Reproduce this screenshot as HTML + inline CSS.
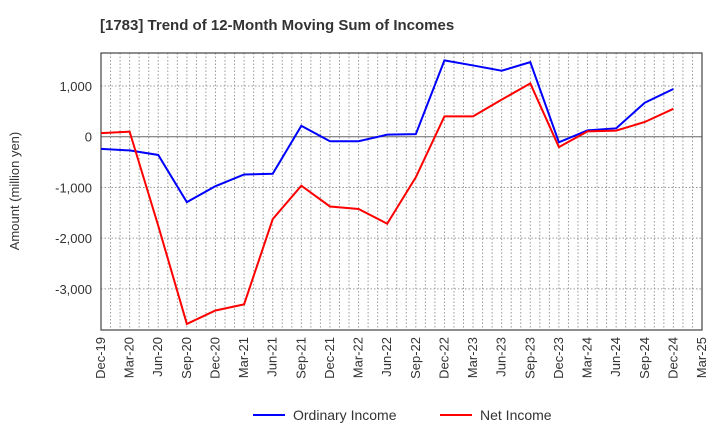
<!DOCTYPE html>
<html><head><meta charset="utf-8"><style>
body{margin:0;background:#fff;font-family:"Liberation Sans",sans-serif}
</style></head><body>
<svg id="chart" width="720" height="440" xmlns="http://www.w3.org/2000/svg" font-family="Liberation Sans, sans-serif">
<text x="100" y="30" font-size="15" font-weight="bold" fill="#333">[1783]  Trend of 12-Month Moving Sum of Incomes</text>
<text transform="translate(19,191) rotate(-90)" text-anchor="middle" font-size="13" fill="#333">Amount (million yen)</text>
<g id="grid"></g><g id="axes"></g><g id="series"></g>
<g>
<line x1="253" y1="415" x2="285" y2="415" stroke="#0000ff" stroke-width="2"/>
<text x="293" y="420" font-size="14" fill="#333">Ordinary Income</text>
<line x1="440" y1="415" x2="472" y2="415" stroke="#ff0000" stroke-width="2"/>
<text x="480" y="420" font-size="14" fill="#333">Net Income</text>
</g>
</svg>
<script>
const categories=["Dec-19","Mar-20","Jun-20","Sep-20","Dec-20","Mar-21","Jun-21","Sep-21","Dec-21","Mar-22","Jun-22","Sep-22","Dec-22","Mar-23","Jun-23","Sep-23","Dec-23","Mar-24","Jun-24","Sep-24","Dec-24","Mar-25"];
const ordinaryIncome=[-240,-270,-360,-1290,-975,-745,-730,215,-90,-90,40,50,1505,1405,1300,1470,-110,125,165,670,940];
const netIncome=[70,100,-1755,-3690,-3425,-3305,-1625,-965,-1375,-1425,-1715,-800,400,400,730,1050,-205,105,120,290,550];
const yTicks=[1000,0,-1000,-2000,-3000];
const yTickLabels=["1,000","0","-1,000","-2,000","-3,000"];
const L=101,R=702,T=53,B=330,yMin=-3810,yMax=1650;
const ns="http://www.w3.org/2000/svg";
const xs=i=>L+i*(R-L)/(categories.length-1);
const ys=v=>B-(v-yMin)/(yMax-yMin)*(B-T);
function mk(p,tag,a){const e=document.createElementNS(ns,tag);for(const k in a)e.setAttribute(k,a[k]);document.getElementById(p).appendChild(e);return e;}
for(let m=1;m<(categories.length-1)*3;m++){const x=L+m*(R-L)/((categories.length-1)*3);
const g=mk("grid","line",{x1:x,x2:x,y1:T,y2:B,stroke:"#999","stroke-dasharray":"1.5,2","stroke-width":1});

}
yTicks.forEach((v,i)=>{const y=ys(v);
const g=mk("grid","line",{x1:L,x2:R,y1:y,y2:y,stroke:v===0?"#666":"#999","stroke-dasharray":v===0?"":"1.5,2","stroke-width":1});


const t=mk("axes","text",{x:92,y:y+5,"text-anchor":"end","font-size":13,fill:"#333"});t.textContent=yTickLabels[i];

});
categories.forEach((c,i)=>{const x=xs(i);
const t=mk("axes","text",{transform:`translate(${x+4},337) rotate(-90)`,"text-anchor":"end","font-size":13,fill:"#333"});t.textContent=c;

});
const f=mk("axes","rect",{x:L,y:T,width:R-L,height:B-T,fill:"none",stroke:"#444","stroke-width":1.2});


[[ordinaryIncome,"#0000ff","ordinary-income-line"],[netIncome,"#ff0000","net-income-line"]].forEach(([d,c,n])=>{
const p=mk("series","polyline",{points:d.map((v,i)=>xs(i)+","+ys(v)).join(" "),fill:"none",stroke:c,"stroke-width":2});

});
</script>
</body></html>
